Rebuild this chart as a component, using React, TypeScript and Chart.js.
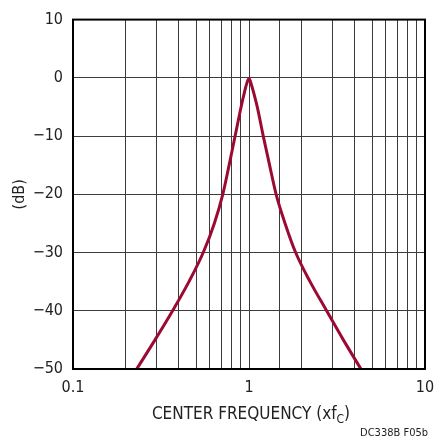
import React, { useEffect, useRef } from 'react';
import Chart from 'chart.js/auto';

// response: frequency (x fC) vs gain (dB)
const freqs = [
  0.2301, 0.2924, 0.3681, 0.456, 0.5495, 0.6353, 0.7096, 0.7709, 0.8337, 0.9016, 0.9419, 0.9705,
  1.0,
  1.028, 1.062, 1.114, 1.205, 1.309, 1.426, 1.603, 1.841, 2.223, 2.761, 3.436, 4.325,
];
const gains = [
  -50, -45, -40, -35, -30, -25, -20, -15, -10, -5, -2.5, -1,
  -0.1,
  -1, -2.5, -5, -10, -15, -20, -25, -30, -35, -40, -45, -50,
];
const xLabels = [0.1, 1, 10];
const yMin = -50;
const yMax = 10;

const FONT = '"Liberation Sans Narrow", "DejaVu Sans Condensed", "Roboto", sans-serif';
const LINE_COLOR = '#9b0a32';
const GRID_COLOR = '#3c3c3c';

const framePlugin = {
  id: 'frameAndTitles',
  afterDraw(chart: Chart) {
    const { ctx, chartArea } = chart;
    const { left, right, top, bottom } = chartArea;
    ctx.save();
    // plot frame
    ctx.strokeStyle = '#000';
    ctx.lineWidth = 2;
    ctx.strokeRect(left, top, right - left, bottom - top);

    // x axis title with subscript C
    ctx.fillStyle = '#222';
    ctx.textBaseline = 'alphabetic';
    ctx.textAlign = 'left';
    const main = 'CENTER FREQUENCY (xf';
    const sub = 'C';
    const tail = ')';
    ctx.font = `17px ${FONT}`;
    const wMain = ctx.measureText(main).width;
    const wTail = ctx.measureText(tail).width;
    ctx.font = `12px ${FONT}`;
    const wSub = ctx.measureText(sub).width;
    const total = wMain + wSub + wTail;
    const cx = 251;
    const baseY = 419;
    let x = cx - total / 2;
    ctx.font = `17px ${FONT}`;
    ctx.fillText(main, x, baseY);
    x += wMain;
    ctx.font = `12px ${FONT}`;
    ctx.fillText(sub, x, baseY + 4);
    x += wSub;
    ctx.font = `17px ${FONT}`;
    ctx.fillText(tail, x, baseY);

    // figure tag
    ctx.font = `11px ${FONT}`;
    ctx.textAlign = 'right';
    ctx.fillText('DC338B F05b', 428, 436);
    ctx.restore();
  },
};

const ResponseChart: React.FC = () => {
  const chartRef = useRef<HTMLCanvasElement | null>(null);
  const chartInstance = useRef<Chart | null>(null);

  useEffect(() => {
    document.body.style.margin = '0';
    if (!chartRef.current) return;
    if (chartInstance.current) {
      chartInstance.current.destroy();
    }
    const ctx = chartRef.current.getContext('2d');
    if (!ctx) return;

    chartInstance.current = new Chart(ctx, {
      type: 'scatter',
      data: {
        datasets: [
          {
            data: freqs.map((f, i) => ({ x: f, y: gains[i] })),
            showLine: true,
            borderColor: LINE_COLOR,
            borderWidth: 3,
            pointRadius: 0,
            cubicInterpolationMode: 'monotone',
          },
        ],
      },
      options: {
        responsive: true,
        maintainAspectRatio: false,
        animation: false,
        layout: {
          padding: { left: 0, right: 11, top: 18, bottom: 0 },
        },
        plugins: {
          legend: { display: false },
          tooltip: { enabled: false },
        },
        scales: {
          x: {
            type: 'logarithmic',
            min: 0.1,
            max: 10,
            border: { display: false },
            grid: { color: GRID_COLOR, lineWidth: 1, drawTicks: false },
            ticks: {
              autoSkip: false,
              maxRotation: 0,
              padding: 9,
              color: '#222',
              font: { family: FONT, size: 16 },
              callback: (value: number | string) => {
                const v = Number(value);
                const hit = xLabels.find(l => Math.abs(v - l) < l * 1e-6);
                return hit !== undefined ? String(hit) : '';
              },
            },
            afterFit: (scale: any) => {
              scale.height = 70;
              scale.paddingLeft = 0;
              scale.paddingRight = 0;
            },
          },
          y: {
            min: yMin,
            max: yMax,
            border: { display: false },
            grid: { color: GRID_COLOR, lineWidth: 1, drawTicks: false },
            ticks: {
              stepSize: 10,
              padding: 10,
              color: '#222',
              font: { family: FONT, size: 16 },
              callback: (value: number | string) => {
                const v = Number(value);
                return v < 0 ? '\u2212' + Math.abs(v) : String(v);
              },
            },
            title: {
              display: true,
              text: '(dB)',
              color: '#222',
              font: { family: FONT, size: 16 },
              padding: { top: 10, bottom: 0 },
            },
            afterFit: (scale: any) => {
              scale.width = 73;
            },
          },
        },
      },
      plugins: [framePlugin],
    });

    return () => {
      if (chartInstance.current) {
        chartInstance.current.destroy();
        chartInstance.current = null;
      }
    };
  }, []);

  return (
    <div style={{ width: 436, height: 439, position: 'relative', background: '#fff' }}>
      <canvas ref={chartRef} />
    </div>
  );
};

export default function App() {
  return <ResponseChart />;
}
